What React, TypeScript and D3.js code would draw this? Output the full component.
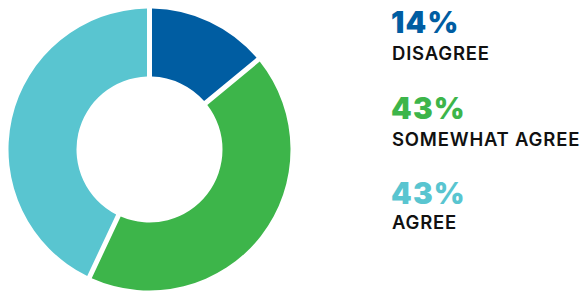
import React from "react";
import * as d3 from "d3";

const categories = ["DISAGREE", "SOMEWHAT AGREE", "AGREE"];
const values = [14, 43, 43];
const percentLabels = ["14%", "43%", "43%"];
const colors = ["#005da2", "#3db54a", "#59c5d0"];

export default function App() {
  const width = 582;
  const height = 291;
  const cx = 149.5;
  const cy = 149.5;
  const outerR = 141;
  const innerR = 73;

  const pie = d3.pie<number>().value((d) => d).sort(null);
  const arcs = pie(values);
  const arc = d3
    .arc<d3.PieArcDatum<number>>()
    .innerRadius(innerR)
    .outerRadius(outerR)
    .padAngle(0.05)
    .padRadius(100);

  const y = d3.scaleLinear().domain([0, 2]).range([33, 204]);
  const labelY = [60, 146, 229];

  return (
    <svg
      width={width}
      height={height}
      style={{ position: "absolute", left: 0, top: 0 }}
    >
      <g transform={`translate(${cx},${cy})`}>
        {arcs.map((a, i) => (
          <path key={i} d={arc(a) || ""} fill={colors[i]} />
        ))}
      </g>
      {categories.map((c, i) => (
        <g key={c}>
          <text
            x={391}
            y={y(i)}
            fill={colors[i]}
            fontFamily="Inter"
            fontWeight={900}
            fontSize={29.5}
            letterSpacing={1.2}
          >
            {percentLabels[i]}
          </text>
          <text
            x={392}
            y={labelY[i]}
            fill="#111"
            fontFamily="Inter"
            fontWeight={600}
            fontSize={18.5}
            letterSpacing={0.8}
          >
            {c}
          </text>
        </g>
      ))}
    </svg>
  );
}
